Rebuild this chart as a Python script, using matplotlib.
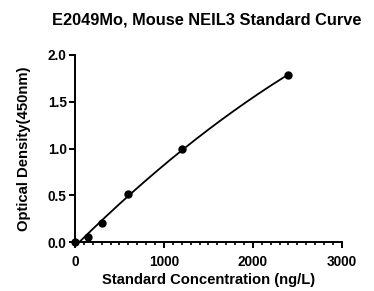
import numpy as np
import matplotlib
matplotlib.use('Agg')
from matplotlib import pyplot as plt
from matplotlib.ticker import MultipleLocator

plt.rcParams['font.family'] = ['Liberation Sans', 'DejaVu Sans']
plt.rcParams['font.weight'] = 'bold'

conc = [0, 150, 300, 600, 1200, 2400]
od = [0.0, 0.057, 0.20, 0.51, 0.99, 1.79]
x_ticks = [0, 1000, 2000, 3000]
y_ticks = [0.0, 0.5, 1.0, 1.5, 2.0]

fig = plt.figure(figsize=(3.74, 2.91), dpi=100)
ax = fig.add_axes([0.2005, 0.168, 0.7135, 0.643])

# fitted curve through the standards
coef = np.polyfit(conc, od, 2)
xs = np.linspace(30, max(conc), 200)
ax.plot(xs, np.polyval(coef, xs), color='black', lw=1.3)
ax.plot(conc, od, 'o', color='black', ms=5, clip_on=False, zorder=5)

ax.set_xlim(0, 3000)
ax.set_ylim(0, 2.0)
ax.set_xticks(x_ticks)
ax.set_yticks(y_ticks)
ax.xaxis.set_minor_locator(MultipleLocator(100))
ax.set_yticklabels(['0.0', '0.5', '1.0', '1.5', '2.0'])

for s in ['top', 'right']:
    ax.spines[s].set_visible(False)
for s in ['left', 'bottom']:
    ax.spines[s].set_linewidth(1.4)
ax.tick_params(which='major', length=4, width=1.4, labelsize=9.8, pad=2)
ax.tick_params(axis='x', which='major', pad=5)
ax.tick_params(which='minor', length=2.5, width=1.2)

ax.set_xlabel('Standard Concentration (ng/L)', fontsize=10.6, fontweight='bold', labelpad=3)
ax.set_ylabel('Optical Density(450nm)', fontsize=10.7, fontweight='bold', labelpad=12)
fig.text(0.553, 0.93, 'E2049Mo, Mouse NEIL3 Standard Curve', ha='center', va='center',
         fontsize=11.8, fontweight='bold')

fig.savefig('out.png', dpi=100)
